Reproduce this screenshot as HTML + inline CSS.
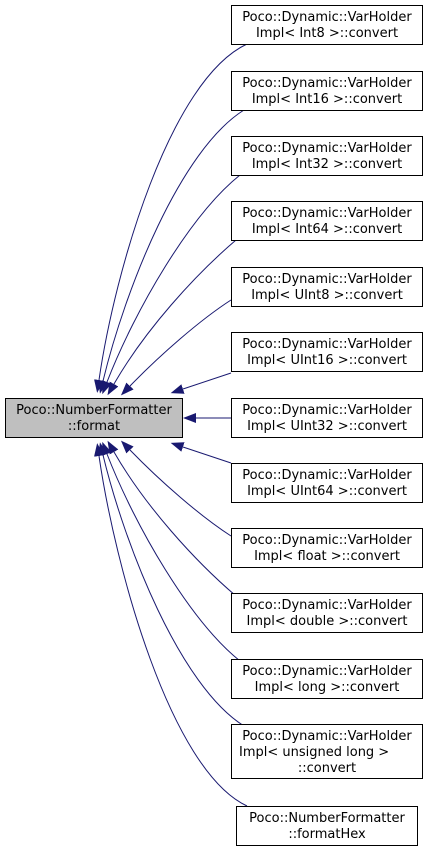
<!DOCTYPE html>
<html><head><meta charset="utf-8"><style>
html,body{margin:0;padding:0;background:#fff;}
svg{display:block;}
text{font-family:"DejaVu Sans","Liberation Sans",sans-serif;font-size:13px;fill:#000;}
</style></head><body>
<svg width="427" height="852" viewBox="0 0 427 852" xmlns="http://www.w3.org/2000/svg">
<defs>
<marker id="a" markerUnits="userSpaceOnUse" markerWidth="14" markerHeight="11" refX="0" refY="5" orient="auto">
<path d="M0,0 L13,5 L0,10 z" fill="#191970"/>
</marker>
</defs>
<g fill="none" stroke="#191970" stroke-width="1" marker-end="url(#a)">
<path d="M247,44 C170,80 115,270 99,380"/>
<path d="M244,110 C180,150 125,290 103,381"/>
<path d="M240,175 C190,215 135,310 107,382"/>
<path d="M236,240 C195,275 145,330 114,384"/>
<path d="M231,300 C200,320 160,355 130,386"/>
<path d="M231,373 L183,389"/>
<path d="M231,418 L196,418"/>
<path d="M231,463 L183,447"/>
<path d="M231,536 C200,516 160,481 130,450"/>
<path d="M236,596 C195,561 145,506 114,452"/>
<path d="M240,661 C190,621 135,526 107,454"/>
<path d="M244,726 C180,686 125,546 103,455"/>
<path d="M247,806 C170,770 115,566 99,456"/>
</g>
<g stroke="#000" stroke-width="1">
<rect x="5.5" y="398.5" width="177" height="39" fill="#bfbfbf"/>
<rect x="231.5" y="5.5" width="191" height="39" fill="#fff"/>
<rect x="231.5" y="71.5" width="191" height="39" fill="#fff"/>
<rect x="231.5" y="136.5" width="191" height="39" fill="#fff"/>
<rect x="231.5" y="201.5" width="191" height="39" fill="#fff"/>
<rect x="231.5" y="267.5" width="191" height="39" fill="#fff"/>
<rect x="231.5" y="332.5" width="191" height="39" fill="#fff"/>
<rect x="231.5" y="398.5" width="191" height="39" fill="#fff"/>
<rect x="231.5" y="463.5" width="191" height="39" fill="#fff"/>
<rect x="231.5" y="528.5" width="191" height="39" fill="#fff"/>
<rect x="231.5" y="593.5" width="191" height="39" fill="#fff"/>
<rect x="231.5" y="659.5" width="191" height="39" fill="#fff"/>
<rect x="231.5" y="724.5" width="191" height="54" fill="#fff"/>
<rect x="236.5" y="806.5" width="181" height="39" fill="#fff"/>
</g>
<g text-anchor="middle">
<text x="94" y="414">Poco::NumberFormatter</text><text x="94" y="430">::format</text>
<text x="327" y="21">Poco::Dynamic::VarHolder</text><text x="327" y="37">Impl&lt; Int8 &gt;::convert</text>
<text x="327" y="87">Poco::Dynamic::VarHolder</text><text x="327" y="103">Impl&lt; Int16 &gt;::convert</text>
<text x="327" y="152">Poco::Dynamic::VarHolder</text><text x="327" y="168">Impl&lt; Int32 &gt;::convert</text>
<text x="327" y="217">Poco::Dynamic::VarHolder</text><text x="327" y="233">Impl&lt; Int64 &gt;::convert</text>
<text x="327" y="283">Poco::Dynamic::VarHolder</text><text x="327" y="299">Impl&lt; UInt8 &gt;::convert</text>
<text x="327" y="348">Poco::Dynamic::VarHolder</text><text x="327" y="364">Impl&lt; UInt16 &gt;::convert</text>
<text x="327" y="414">Poco::Dynamic::VarHolder</text><text x="327" y="430">Impl&lt; UInt32 &gt;::convert</text>
<text x="327" y="479">Poco::Dynamic::VarHolder</text><text x="327" y="495">Impl&lt; UInt64 &gt;::convert</text>
<text x="327" y="544">Poco::Dynamic::VarHolder</text><text x="327" y="560">Impl&lt; float &gt;::convert</text>
<text x="327" y="609">Poco::Dynamic::VarHolder</text><text x="327" y="625">Impl&lt; double &gt;::convert</text>
<text x="327" y="675">Poco::Dynamic::VarHolder</text><text x="327" y="691">Impl&lt; long &gt;::convert</text>
<text x="327" y="740">Poco::Dynamic::VarHolder</text>
<text x="239" y="756" text-anchor="start">Impl&lt; unsigned long &gt;</text>
<text x="327" y="772">::convert</text>
<text x="327" y="822">Poco::NumberFormatter</text><text x="327" y="838">::formatHex</text>
</g>
</svg>
</body></html>
